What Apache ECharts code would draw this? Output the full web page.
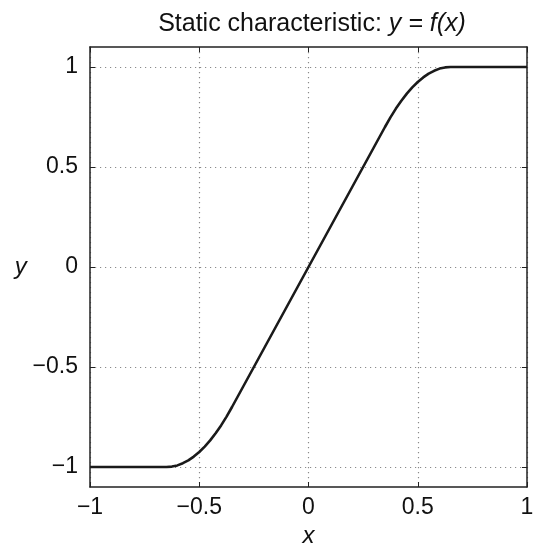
<!DOCTYPE html>
<html>
<head>
<meta charset="utf-8">
<script src="https://cdn.jsdelivr.net/npm/echarts@6/dist/echarts.min.js"></script>
<style>html,body{margin:0;padding:0;background:#fff}#c{width:534px;height:545px}</style>
</head>
<body>
<div id="c"></div>
<script>
// x values and y values
var xValues = [-1, -0.9, -0.8, -0.7, -0.65, -0.625, -0.6, -0.575, -0.55, -0.525, -0.5, -0.475, -0.45, -0.425, -0.4, -0.375, -0.35, -0.3, -0.25, -0.2, -0.1, 0, 0.1, 0.2, 0.25, 0.3, 0.35, 0.375, 0.4, 0.425, 0.45, 0.475, 0.5, 0.525, 0.55, 0.575, 0.6, 0.625, 0.65, 0.7, 0.8, 0.9, 1];
var yValues = [-1, -1, -1, -1, -1, -0.998, -0.992, -0.981, -0.967, -0.948, -0.925, -0.898, -0.867, -0.831, -0.792, -0.748, -0.7, -0.6, -0.5, -0.4, -0.2, 0, 0.2, 0.4, 0.5, 0.6, 0.7, 0.748, 0.792, 0.831, 0.867, 0.898, 0.925, 0.948, 0.967, 0.981, 0.992, 0.998, 1, 1, 1, 1, 1];
var xTicks = [-1, -0.5, 0, 0.5, 1];
var yTicks = [-1, -0.5, 0, 0.5, 1];
var titleText = 'Static characteristic: ';
var titleMath = 'y = f(x)';

var FONT = '"Liberation Sans", Arial, Helvetica, sans-serif';
var TXT = '#111';
function fmt(v) { return String(v).replace('-', '\u2212'); }

var data = xValues.map(function (x, i) { return [x, yValues[i]]; });

var chart = echarts.init(document.getElementById('c'), null, { renderer: 'canvas' });
var axisLine = { show: true, onZero: false, lineStyle: { color: '#222', width: 1.5 } };
var splitLine = { show: true, lineStyle: { color: '#8a8a8a', type: [1.2, 3.8], width: 1.2 } };
chart.setOption({
  animation: false,
  backgroundColor: '#fff',
  title: {
    text: '{a|' + titleText + '}{b|' + titleMath + '}',
    left: 307, top: 7, textAlign: 'center',
    textStyle: {
      rich: {
        a: { fontFamily: FONT, fontSize: 25, color: TXT, fontWeight: 'normal' },
        b: { fontFamily: FONT, fontSize: 25, color: TXT, fontStyle: 'italic', fontWeight: 'normal' }
      }
    }
  },
  grid: { left: 90, right: 7, top: 47, bottom: 58, containLabel: false, outerBoundsMode: 'none' },
  xAxis: [{
    type: 'value', min: -1, max: 1, position: 'bottom',
    axisLine: axisLine,
    axisTick: { show: true, inside: true, length: 5, customValues: xTicks, lineStyle: { color: '#222' } },
    axisLabel: { customValues: xTicks, formatter: fmt, fontFamily: FONT, fontSize: 23, color: TXT, margin: 9 },
    splitLine: splitLine,
    name: 'x', nameLocation: 'middle', nameGap: 33,
    nameTextStyle: { fontFamily: FONT, fontSize: 24, fontStyle: 'italic', color: TXT }
  }, {
    type: 'value', min: -1, max: 1, position: 'top',
    axisLine: axisLine,
    axisTick: { show: true, inside: true, length: 5, customValues: xTicks, lineStyle: { color: '#222' } },
    axisLabel: { show: false }, splitLine: { show: false }
  }],
  yAxis: [{
    type: 'value', min: -1.1, max: 1.1, position: 'left',
    axisLine: axisLine,
    axisTick: { show: true, inside: true, length: 5, customValues: yTicks, lineStyle: { color: '#222' } },
    axisLabel: { customValues: yTicks, formatter: fmt, fontFamily: FONT, fontSize: 23, color: TXT, margin: 12 },
    splitLine: splitLine,
    name: 'y', nameLocation: 'middle', nameGap: 63, nameRotate: 0,
    nameTextStyle: { fontFamily: FONT, fontSize: 24, fontStyle: 'italic', color: TXT }
  }, {
    type: 'value', min: -1.1, max: 1.1, position: 'right',
    axisLine: axisLine,
    axisTick: { show: true, inside: true, length: 5, customValues: yTicks, lineStyle: { color: '#222' } },
    axisLabel: { show: false }, splitLine: { show: false }
  }],
  series: [{
    type: 'line', xAxisIndex: 0, yAxisIndex: 0,
    data: data, showSymbol: false, smooth: false,
    lineStyle: { color: '#1a1a1a', width: 2.6 }
  }]
});
</script>
</body>
</html>
